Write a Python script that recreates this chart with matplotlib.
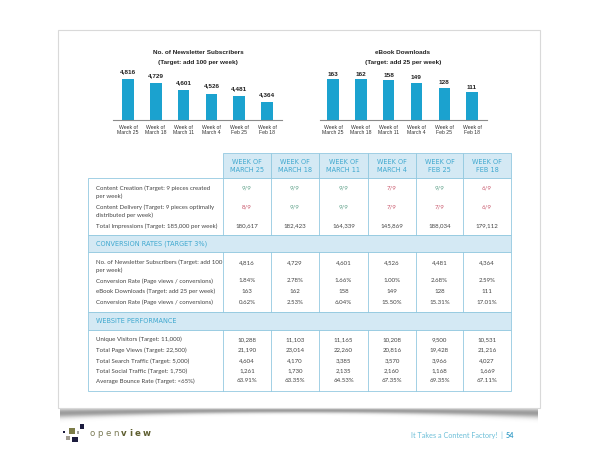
import matplotlib
matplotlib.use("Agg")
import matplotlib.pyplot as plt
import numpy as np
from matplotlib.patches import Rectangle

plt.rcParams['font.family'] = ['Lato', 'DejaVu Sans']

# ---------------- data ----------------
weeks = ["Week of\nMarch 25", "Week of\nMarch 18", "Week of\nMarch 11",
         "Week of\nMarch 4", "Week of\nFeb 25", "Week of\nFeb 18"]
header_labels = ["WEEK OF\nMARCH 25", "WEEK OF\nMARCH 18", "WEEK OF\nMARCH 11",
                 "WEEK OF\nMARCH 4", "WEEK OF\nFEB 25", "WEEK OF\nFEB 18"]
newsletter = [4816, 4729, 4601, 4526, 4481, 4364]
ebook = [163, 162, 158, 149, 128, 111]

content_creation = ["9/9", "9/9", "9/9", "7/9", "9/9", "6/9"]
content_delivery = ["8/9", "9/9", "9/9", "7/9", "7/9", "6/9"]
total_impressions = [180617, 182423, 164339, 145869, 188034, 179112]
conv_rate_news = ["1.84%", "2.78%", "1.66%", "1.00%", "2.68%", "2.59%"]
conv_rate_ebook = ["0.62%", "2.53%", "6.04%", "15.50%", "15.31%", "17.01%"]
unique_visitors = [10288, 11103, 11165, 10208, 9500, 10531]
page_views = [21190, 23014, 22260, 20816, 19428, 21216]
search_traffic = [4604, 4170, 3385, 3570, 3966, 4027]
social_traffic = [1261, 1730, 2135, 2160, 1168, 1669]
bounce_rate = ["63.91%", "63.35%", "64.53%", "67.35%", "69.35%", "67.11%"]

section1_title = "CONVERSION RATES (TARGET 3%)"
section2_title = "WEBSITE PERFORMANCE"

# ---------------- styling ----------------
W, H = 600, 463
BAR = '#1ba2cf'
HDR_BG = '#d4e9f4'
BORDER = '#93c9e0'
HDR_TXT = '#3fa8cf'
BODY_TXT = '#444444'
GOOD = '#5a9e86'
BAD = '#c8556a'
BODY_FS = 4.4
HDR_FS = 4.7
ARIAL = ['Liberation Sans', 'DejaVu Sans']

fig = plt.figure(figsize=(6, 4.63), dpi=100)
bg = fig.add_axes([0, 0, 1, 1])
bg.set_xlim(0, W)
bg.set_ylim(H, 0)
bg.axis('off')

# card shadow
x0c, x1c, y0c, y1c = 58, 540, 30, 408
xs = np.linspace(0, 1, 300)
ys = np.linspace(0, 1, 40)
X, Y = np.meshgrid(xs, ys)
edge = np.abs(X - 0.5) * 2
depth = 0.55 + 0.45 * edge ** 2
alpha = 0.6 * np.exp(-((Y - 0.35 * depth) / (0.28 * depth)) ** 2)
img = np.zeros((40, 300, 4))
img[..., :3] = 0.35
img[..., 3] = alpha
bg.imshow(img, extent=[x0c + 2, x1c - 2, y1c + 16, y1c - 1], aspect='auto',
          zorder=0.5, interpolation='bilinear')

bg.add_patch(Rectangle((x0c, y0c), x1c - x0c, y1c - y0c, facecolor='white',
                       edgecolor='#d9d9d9', lw=0.8, zorder=1))

# ---------------- bar charts ----------------
def px_axes(left, right, base, top):
    return fig.add_axes([left / W, (H - base) / H, (right - left) / W, (base - top) / H])

def bar_chart(ax, values, ylim, xlim, label_off):
    x = np.arange(len(values))
    ax.bar(x, values, width=0.41, color=BAR, zorder=2)
    ax.set_ylim(*ylim)
    ax.set_xlim(*xlim)
    for s in ['top', 'left', 'right']:
        ax.spines[s].set_visible(False)
    ax.spines['bottom'].set_color('#8a8a8a')
    ax.spines['bottom'].set_linewidth(0.8)
    ax.set_yticks([])
    ax.set_xticks(x)
    ax.set_xticklabels(weeks, fontsize=3.7, color='#333333', linespacing=1.1,
                       family=ARIAL)
    ax.tick_params(axis='x', length=0, pad=3.6)
    ax.patch.set_alpha(0)
    for xi, v in zip(x, values):
        ax.annotate(f"{v:,}", (xi, v), xytext=(0, label_off), textcoords='offset points',
                    ha='center', va='center', fontsize=4.6, fontweight='bold',
                    color='#222222', family=ARIAL)

ax1 = px_axes(113, 282, 120, 60)
bar_chart(ax1, newsletter, (4000, 5195), (-0.54, 5.54), 5.4)
ax2 = px_axes(320, 487, 120, 60)
bar_chart(ax2, ebook, (0, 238.6), (-0.47, 5.54), 3.6)

for cx, t1, t2 in [(198, "No. of Newsletter Subscribers", "(Target: add 100 per week)"),
                   (403, "eBook Downloads", "(Target: add 25 per week)")]:
    bg.text(cx, 52.7, t1, ha='center', va='center', fontsize=4.6, fontweight='bold',
            color='#222222', family=ARIAL, zorder=3)
    bg.text(cx, 62.3, t2, ha='center', va='center', fontsize=4.6, fontweight='bold',
            color='#222222', family=ARIAL, zorder=3)

# ---------------- table ----------------
tl, tr = 88, 511
col_edges = [223, 271, 319, 368, 416, 463, 511]
col_centers = [(a + b) / 2 for a, b in zip(col_edges[:-1], col_edges[1:])]
hdr_font = ['DejaVu Sans']

# header cells
for i, lab in enumerate(header_labels):
    bg.add_patch(Rectangle((col_edges[i], 153), col_edges[i + 1] - col_edges[i], 25,
                           facecolor=HDR_BG, edgecolor=BORDER, lw=0.6, zorder=2))
    l1, l2 = lab.split("\n")
    bg.text(col_centers[i], 161.7, l1, ha='center', va='center', fontsize=HDR_FS,
            color=HDR_TXT, family=hdr_font, zorder=3)
    bg.text(col_centers[i], 170.2, l2, ha='center', va='center', fontsize=HDR_FS,
            color=HDR_TXT, family=hdr_font, zorder=3)

def body_block(y0, y1):
    bg.add_patch(Rectangle((tl, y0), tr - tl, y1 - y0, facecolor='white',
                           edgecolor=BORDER, lw=0.6, zorder=2))
    for xe in col_edges[:-1]:
        bg.plot([xe, xe], [y0, y1], color=BORDER, lw=0.6, zorder=2.5)

def section_band(y0, y1, title):
    bg.add_patch(Rectangle((tl, y0), tr - tl, y1 - y0, facecolor=HDR_BG,
                           edgecolor=BORDER, lw=0.6, zorder=2))
    bg.text(96, (y0 + y1) / 2, title, ha='left', va='center', fontsize=HDR_FS,
            color=HDR_TXT, family=hdr_font, zorder=3)

def row(y, label, values, colors=None):
    lines = label.split("\n")
    for k, ln in enumerate(lines):
        bg.text(96, y + 7.6 * k, ln, ha='left', va='center', fontsize=BODY_FS,
                color=BODY_TXT, zorder=3)
    for i, v in enumerate(values):
        txt = f"{v:,}" if isinstance(v, int) else v
        c = BODY_TXT
        if colors is not None:
            c = GOOD if v.startswith("9") else BAD
        bg.text(col_centers[i], y, txt, ha='center', va='center', fontsize=BODY_FS,
                color=c, zorder=3)

body_block(178, 235)
row(188.3, "Content Creation (Target: 9 pieces created\nper week)", content_creation, colors=True)
row(207.3, "Content Delivery (Target: 9 pieces optimally\ndistributed per week)", content_delivery, colors=True)
row(226, "Total Impressions (Target: 185,000 per week)", total_impressions)

section_band(235, 252.3, section1_title)
body_block(252.3, 311.7)
row(262.3, "No. of Newsletter Subscribers (Target: add 100\nper week)", newsletter)
row(281, "Conversion Rate (Page views / conversions)", conv_rate_news)
row(291.7, "eBook Downloads (Target: add 25 per week)", ebook)
row(302.3, "Conversion Rate (Page views / conversions)", conv_rate_ebook)

section_band(311.7, 330, section2_title)
body_block(330, 390.7)
row(339.3, "Unique Visitors (Target: 11,000)", unique_visitors)
row(350, "Total Page Views (Target: 22,500)", page_views)
row(361, "Total Search Traffic (Target: 5,000)", search_traffic)
row(371, "Total Social Traffic (Target: 1,750)", social_traffic)
row(381, "Average Bounce Rate (Target: <65%)", bounce_rate)

# ---------------- footer ----------------
NAVY = '#1c1c3e'
squares = [(64, 431.7, 2.2, NAVY), (72, 430.5, 6, '#7c7c48'), (82, 426.7, 4.6, NAVY),
           (78, 432.2, 2.8, '#a3a3a3'), (68, 437.7, 4, '#a39d92'), (75, 439.5, 5.6, NAVY)]
for cx, cy, s, c in squares:
    bg.add_patch(Rectangle((cx - s / 2, cy - s / 2), s, s, facecolor=c, edgecolor='none', zorder=3))

renderer = fig.canvas.get_renderer()
cursor = 90.0
for k, ch in enumerate("openview"):
    bold = k >= 4
    t = bg.text(cursor, 433, ch, ha='left', va='center', fontsize=6.2,
                fontweight='bold' if bold else 'normal',
                color='#5e5e30' if bold else '#7a7a55', family=['DejaVu Sans'], zorder=3)
    bb = t.get_window_extent(renderer=renderer)
    cursor += bb.width + 2.4

bg.text(503, 435, "It Takes a Content Factory!  |", ha='right', va='center', fontsize=5.2,
        color='#6cbfd8', zorder=3)
bg.text(506, 435, "54", ha='left', va='center', fontsize=5.2, fontweight='bold',
        color='#3a9fc8', zorder=3)

fig.savefig("out.png", dpi=100)
